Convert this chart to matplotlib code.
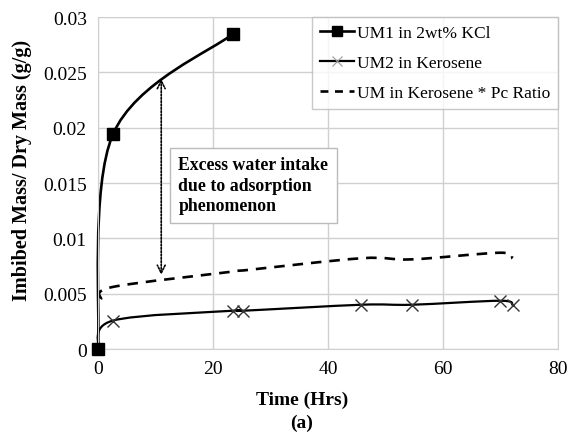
import numpy as np
import matplotlib
matplotlib.use("Agg")
import matplotlib.pyplot as plt
from matplotlib.path import Path
from matplotlib.patches import PathPatch
from matplotlib.lines import Line2D

plt.rcParams['font.family'] = ['Liberation Serif', 'DejaVu Serif']

# data
um1_t = [0.0, 2.6, 23.5]
um1_m = [0.0, 0.0194, 0.0285]

um2_t = [0.0, 2.55, 23.5, 25.3, 45.8, 54.6, 69.9, 72.1]
um2_m = [0.0, 0.00256, 0.00346, 0.00346, 0.0040, 0.0040, 0.00436, 0.0040]

pc_t = [0.5, 2.5, 23.5, 25.3, 45.8, 54.6, 69.9, 72.1]
pc_m = [0.0045, 0.0056, 0.0070, 0.0071, 0.0082, 0.0081, 0.0087, 0.0082]

labels = ["UM1 in 2wt% KCl", "UM2 in Kerosene", "UM in Kerosene * Pc Ratio"]
note = "Excess water intake\ndue to adsorption\nphenomenon"
arrow_t = 11.0
arrow_lo, arrow_hi = 0.0067, 0.0244


def smooth_path(x, y):
    # Excel-like smoothed line: cubic bezier segments through the points
    p = np.column_stack([x, y]).astype(float)
    verts = [p[0]]
    codes = [Path.MOVETO]
    n = len(p)
    for i in range(n - 1):
        prev = p[i - 1] if i > 0 else p[i]
        nxt = p[i + 2] if i + 2 < n else p[i + 1]
        c1 = p[i] + (p[i + 1] - prev) / 6.0
        c2 = p[i + 1] - (nxt - p[i]) / 6.0
        verts += [c1, c2, p[i + 1]]
        codes += [Path.CURVE4] * 3
    return Path(verts, codes)


fig = plt.figure(figsize=(5.69, 4.35), dpi=100)
ax = fig.add_axes([0.1722, 0.1954, 0.8085, 0.7632])

grid_c = "#d0d0d0"
ax.grid(True, color=grid_c, lw=1.0)
ax.set_axisbelow(True)
for s in ax.spines.values():
    s.set_color(grid_c)

ax.add_patch(PathPatch(smooth_path(pc_t, pc_m), fill=False, lw=1.9, color="black",
                       linestyle=(0, (4, 3)), capstyle="butt", clip_on=False))
ax.add_patch(PathPatch(smooth_path(um2_t, um2_m), fill=False, lw=1.6, color="black",
                       clip_on=False))
ax.add_patch(PathPatch(smooth_path(um1_t, um1_m), fill=False, lw=1.9, color="black",
                       clip_on=False))

ax.plot(um2_t[1:], um2_m[1:], ls="none", marker="x", ms=8, mew=1.0, color="#333333", zorder=4)
ax.plot(um1_t, um1_m, ls="none", marker="s", ms=8, color="black", zorder=5, clip_on=False)

ax.annotate("", xy=(arrow_t, arrow_lo), xytext=(arrow_t, arrow_hi),
            arrowprops=dict(arrowstyle="<->", ls=(0, (1, 1)), lw=1.2, color="black",
                            shrinkA=0, shrinkB=0, mutation_scale=14))

ax.text(14.0, 0.0174, note, fontsize=12.8, fontweight="bold", va="top", ha="left",
        linespacing=1.25,
        bbox=dict(boxstyle="square,pad=0.5", fc="white", ec="#bbbbbb", lw=1.0))

ax.set_xlim(0, 80)
ax.set_ylim(0, 0.03)
ax.set_xticks([0, 20, 40, 60, 80])
ax.set_yticks([0, 0.005, 0.01, 0.015, 0.02, 0.025, 0.03])
ax.set_yticklabels(["0", "0.005", "0.01", "0.015", "0.02", "0.025", "0.03"])
ax.tick_params(length=0, labelsize=14, pad=8)

handles = [
    Line2D([], [], color="black", lw=1.9, marker="s", ms=7),
    Line2D([], [], color="black", lw=1.6, marker="x", ms=7, mec="#999999", mew=0.8),
    Line2D([], [], color="black", lw=1.9, linestyle=(0, (3, 2.5))),
]
leg = ax.legend(handles, labels, loc="upper right", fontsize=12.5, frameon=True,
                fancybox=False, borderaxespad=0, handlelength=2.0, handletextpad=0.15,
                labelspacing=0.8, borderpad=0.45)
leg.get_frame().set_edgecolor("#bbbbbb")
leg.get_frame().set_linewidth(1.0)

fig.text(302 / 569, 1 - 400 / 435, "Time (Hrs)", fontsize=14, fontweight="bold",
         ha="center", va="center")
fig.text(302 / 569, 1 - 423 / 435, "(a)", fontsize=14, fontweight="bold",
         ha="center", va="center")
fig.text(22 / 569, 1 - 170 / 435, "Imbibed Mass/ Dry Mass (g/g)", fontsize=14.5,
         fontweight="bold", ha="center", va="center", rotation=90)

fig.savefig("out.png", dpi=100)
